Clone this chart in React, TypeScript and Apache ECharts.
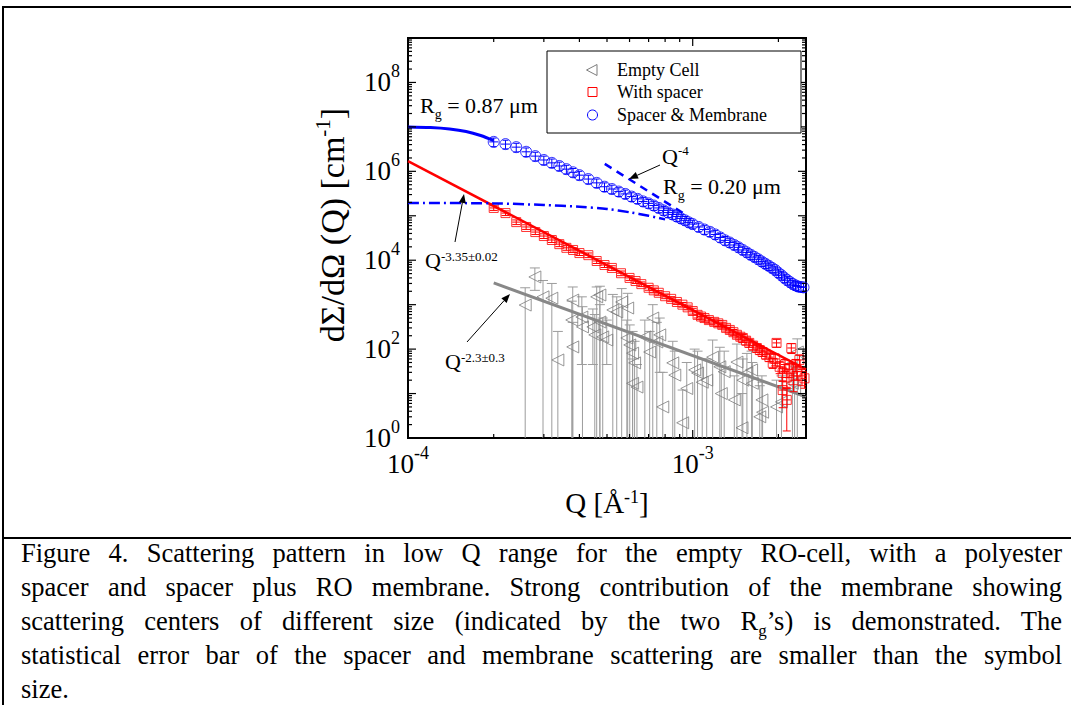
import React, { useEffect, useRef } from 'react';
import * as echarts from 'echarts';

const FONT = '"Liberation Serif", "Times New Roman", Times, serif';

// ---------- data ----------
// Empty cell (grey triangles): Q [1/Å], intensity, upper error bound, lower error bound (0 = reaches zero)
const emptyQ = [2.58e-4, 2.79e-4, 2.98e-4, 3.2e-4, 3.36e-4, 3.79e-4, 3.76e-4, 3.79e-4, 4.08e-4, 4.1e-4, 4.46e-4, 4.53e-4, 4.72e-4, 4.72e-4, 4.6e-4, 4.83e-4, 4.99e-4, 5.24e-4, 5.41e-4, 5.63e-4, 5.91e-4, 5.87e-4, 6.01e-4, 6.15e-4, 6.25e-4, 6.15e-4, 6.37e-4, 6.79e-4, 7.24e-4, 7.06e-4, 7.48e-4, 7.66e-4, 7.85e-4, 8.51e-4, 8.65e-4, 9.22e-4, 9.53e-4, 1.016e-3, 1.04e-3, 1.08e-3, 1.12e-3, 1.175e-3, 1.245e-3, 1.26e-3, 1.29e-3, 1.4e-3, 1.43e-3, 1.49e-3, 1.5e-3, 1.55e-3, 1.61e-3, 1.62e-3, 1.72e-3, 1.75e-3, 1.76e-3, 1.97e-3, 2.05e-3, 2.24e-3, 2.28e-3, 2.33e-3];
const emptyI = [980, 4200, 1500, 1400, 57, 1270, 452, 112, 527, 316, 316, 209, 407, 1650, 1500, 188, 160, 760, 684, 1150, 841, 178, 124, 81, 49, 17, 14, 188, 500, 86, 145, 209, 5, 49, 26, 2.2, 13, 34, 29, 18, 20, 66, 40, 10, 31, 7.2, 51, 1.7, 20, 29, 34, 17, 3.0, 7.2, 3.8, 5, 6.5, 17, 12, 86];
const emptyHi = [2400, 6700, 3500, 3000, 250, 2500, 1200, 400, 1500, 900, 800, 600, 1000, 2600, 2500, 500, 450, 1700, 1500, 2300, 1800, 450, 350, 250, 150, 60, 45, 450, 1000, 250, 400, 500, 30, 150, 90, 12, 50, 100, 90, 60, 60, 160, 110, 40, 90, 25, 130, 10, 60, 80, 90, 50, 15, 25, 18, 20, 25, 50, 40, 170];
const emptyLo = [0, 2100, 0, 0, 0, 0, 0, 0, 45, 0, 45, 0, 0, 0, 0, 0, 45, 0, 0, 0, 0, 0, 0, 0, 0, 0, 0, 0, 0, 0, 0, 30, 0, 0, 0, 0, 0, 0, 0, 0, 0, 0, 0, 0, 0, 0, 0, 0, 0, 0, 0, 0, 0, 0, 0, 0, 0, 0, 0, 0];

// With spacer (red squares)
const spacerQ = [2.0e-4, 2.2e-4, 2.4e-4, 2.6e-4, 2.8e-4, 3.0e-4, 3.2e-4, 3.4e-4, 3.6e-4, 3.8e-4, 4.0e-4, 4.3e-4, 4.6e-4, 4.9e-4, 5.2e-4, 5.6e-4, 6.0e-4, 6.3e-4, 6.6e-4, 7.0e-4, 7.3e-4, 7.6e-4, 8.0e-4, 8.4e-4, 8.8e-4, 9.2e-4, 9.6e-4, 1.0e-3, 1.04e-3, 1.07e-3, 1.1e-3, 1.14e-3, 1.19e-3, 1.23e-3, 1.27e-3, 1.31e-3, 1.35e-3, 1.39e-3, 1.43e-3, 1.47e-3, 1.5e-3, 1.54e-3, 1.58e-3, 1.63e-3, 1.68e-3, 1.72e-3, 1.76e-3, 1.81e-3, 1.86e-3, 1.91e-3, 1.95e-3, 1.97e-3, 2.02e-3, 2.07e-3, 2.07e-3, 2.11e-3, 2.14e-3, 2.14e-3, 2.18e-3, 2.22e-3, 2.26e-3, 2.3e-3, 2.32e-3, 2.37e-3, 2.42e-3, 2.47e-3];
const spacerI = [1.5e5, 1.15e5, 7.2e4, 5.6e4, 4.3e4, 3.5e4, 2.85e4, 2.3e4, 1.9e4, 1.7e4, 1.45e4, 1.3e4, 9.6e3, 7.8e3, 6.7e3, 5.1e3, 4.0e3, 3.4e3, 2.9e3, 2.4e3, 2.1e3, 1.85e3, 1.55e3, 1.35e3, 1.15e3, 1.0e3, 870, 720, 590, 540, 500, 450, 410, 380, 350, 300, 270, 240, 210, 190, 178, 155, 138, 120, 106, 95, 86, 75, 66, 49, 60, 138, 40, 29, 12, 45, 23, 7.2, 35, 106, 20, 45, 31, 57, 25, 22];
const spacerRelErr = [0.12, 0.12, 0.12, 0.12, 0.12, 0.12, 0.12, 0.12, 0.12, 0.12, 0.12, 0.12, 0.12, 0.12, 0.12, 0.12, 0.12, 0.12, 0.12, 0.12, 0.12, 0.12, 0.12, 0.12, 0.12, 0.12, 0.12, 0.15, 0.15, 0.15, 0.15, 0.15, 0.15, 0.15, 0.15, 0.15, 0.15, 0.15, 0.15, 0.15, 0.2, 0.2, 0.2, 0.2, 0.2, 0.2, 0.2, 0.2, 0.2, 0.25, 0.3, 0.2, 0.3, 0.35, 0.6, 0.3, 0.4, 0.8, 0.35, 0.25, 0.45, 0.3, 0.35, 0.3, 0.4, 0.4];

// Spacer & membrane (blue circles)
const membraneQ = [2.0e-4, 2.2e-4, 2.4e-4, 2.6e-4, 2.8e-4, 3.0e-4, 3.2e-4, 3.4e-4, 3.6e-4, 3.8e-4, 4.0e-4, 4.3e-4, 4.6e-4, 4.9e-4, 5.2e-4, 5.5e-4, 5.8e-4, 6.1e-4, 6.4e-4, 6.7e-4, 7.0e-4, 7.3e-4, 7.6e-4, 7.9e-4, 8.2e-4, 8.5e-4, 8.8e-4, 9.1e-4, 9.4e-4, 9.7e-4, 1.0e-3, 1.05e-3, 1.1e-3, 1.15e-3, 1.2e-3, 1.25e-3, 1.3e-3, 1.35e-3, 1.4e-3, 1.45e-3, 1.5e-3, 1.55e-3, 1.6e-3, 1.65e-3, 1.7e-3, 1.75e-3, 1.8e-3, 1.85e-3, 1.9e-3, 1.95e-3, 2.0e-3, 2.05e-3, 2.1e-3, 2.15e-3, 2.2e-3, 2.25e-3, 2.3e-3, 2.35e-3, 2.4e-3, 2.45e-3];
const membraneI = [4.6e6, 4.1e6, 3.5e6, 2.75e6, 2.2e6, 1.8e6, 1.55e6, 1.32e6, 1.12e6, 9.5e5, 8.2e5, 6.7e5, 5.5e5, 4.5e5, 4.0e5, 3.5e5, 3.1e5, 2.7e5, 2.4e5, 2.1e5, 1.9e5, 1.7e5, 1.5e5, 1.32e5, 1.18e5, 1.07e5, 9.6e4, 8.7e4, 7.9e4, 7.1e4, 6.5e4, 5.6e4, 4.9e4, 4.35e4, 3.8e4, 3.25e4, 2.8e4, 2.5e4, 2.2e4, 1.95e4, 1.7e4, 1.5e4, 1.32e4, 1.18e4, 1.05e4, 9.3e3, 8.3e3, 7.5e3, 6.7e3, 6.0e3, 5.2e3, 4.6e3, 4.0e3, 3.55e3, 3.2e3, 2.9e3, 2.7e3, 2.55e3, 2.5e3, 2.45e3];
const membraneRelErr = 0.22;

// Fits
const guinierLargeQ = [1.0e-4, 1.2e-4, 1.4e-4, 1.6e-4, 1.8e-4, 2.0e-4];
const guinierLargeI = [1.0e7, 9.7e6, 9.0e6, 7.9e6, 6.4e6, 4.9e6];
const guinierSmallQ = [1.0e-4, 2.0e-4, 3.0e-4, 4.0e-4, 5.0e-4, 6.0e-4, 7.0e-4, 8.0e-4];
const guinierSmallI = [1.95e5, 1.9e5, 1.75e5, 1.6e5, 1.42e5, 1.2e5, 1.0e5, 8.3e4];
const porodQ = [4.91e-4, 9.22e-4];
const porodI = [1.47e6, 1.17e5];
const spacerFitQ = [1.0e-4, 2.5e-3];
const spacerFitI = [1.7e6, 35];
const emptyFitQ = [2.0e-4, 2.5e-3];
const emptyFitI = [3.1e3, 8.4];

// Axes & ticks
const X_MIN = 1e-4;
const X_MAX = 2.5e-3;
const Y_MIN = 1;
const Y_MAX = 1e9;
const xLabelExps = [-4, -3];
const yLabelExps = [0, 2, 4, 6, 8];
const xMajorTicks = [1e-4, 1e-3];
const xMinorTicks = [2e-4, 3e-4, 4e-4, 5e-4, 6e-4, 7e-4, 8e-4, 9e-4, 2e-3];
const yMajorTicks = [1, 1e1, 1e2, 1e3, 1e4, 1e5, 1e6, 1e7, 1e8, 1e9];
const yMinorTicks: number[] = [];
yMajorTicks.slice(0, -1).forEach((d) => {
  [2, 3, 4, 5, 6, 7, 8, 9].forEach((m) => yMinorTicks.push(m * d));
});

const captionLines = [
  'Figure 4. Scattering pattern in low Q range for the empty RO-cell, with a polyester',
  'spacer and spacer plus RO membrane. Strong contribution of the membrane showing',
  'scattering centers of different size (indicated by the two R|g|’s) is demonstrated. The',
  'statistical error bar of the spacer and membrane scattering are smaller than the symbol',
  'size.',
];

// ---------- helpers ----------
const GREY = '#7d7d7d';
const GREY_ERR = '#9c9c9c';
const RED = '#ff0000';
const BLUE = '#0000ff';

function errRender(color: string, capW: number, centerW: number) {
  return (params: any, api: any) => {
    const q = api.value(0);
    const hi = api.value(1);
    const lo = api.value(2);
    const hasLo = api.value(3);
    const mid = api.value(4);
    const top = api.coord([q, hi]);
    const bot = api.coord([q, lo]);
    const x = top[0];
    const st = { stroke: color, lineWidth: 1 };
    const ch: any[] = [
      { type: 'line', shape: { x1: x, y1: top[1], x2: x, y2: bot[1] }, style: st },
      { type: 'line', shape: { x1: x - capW / 2, y1: top[1], x2: x + capW / 2, y2: top[1] }, style: st },
    ];
    if (hasLo) ch.push({ type: 'line', shape: { x1: x - capW / 2, y1: bot[1], x2: x + capW / 2, y2: bot[1] }, style: st });
    if (centerW) {
      const c = api.coord([q, mid]);
      ch.push({ type: 'line', shape: { x1: x - centerW / 2, y1: c[1], x2: x + centerW / 2, y2: c[1] }, style: st });
    }
    return { type: 'group', children: ch };
  };
}

function arrow(x1: number, y1: number, x2: number, y2: number) {
  const dx = x2 - x1;
  const dy = y2 - y1;
  const len = Math.hypot(dx, dy);
  const ux = dx / len;
  const uy = dy / len;
  const hl = 9;
  const hw = 3.5;
  const bx = x2 - ux * hl;
  const by = y2 - uy * hl;
  return [
    { type: 'line', shape: { x1, y1, x2: bx, y2: by }, style: { stroke: '#000', lineWidth: 1 }, z: 50 },
    {
      type: 'polygon',
      shape: { points: [[x2, y2], [bx - uy * hw, by + ux * hw], [bx + uy * hw, by - ux * hw]] },
      style: { fill: '#000' },
      z: 50,
    },
  ];
}

function richText(x: number, y: number, text: string, rich: any) {
  return {
    type: 'text',
    x,
    y,
    z: 50,
    style: {
      text,
      rich,
      fill: '#000',
      align: 'left',
      verticalAlign: 'middle',
      textAlign: 'left',
      textVerticalAlign: 'middle',
    },
  };
}

function rs(fontSize: number, lineHeight: number, verticalAlign?: string) {
  const s: any = { fontSize, lineHeight, fontFamily: FONT, fill: '#000', color: '#000' };
  if (verticalAlign) s.verticalAlign = verticalAlign;
  return s;
}

const labelRich = { b: rs(27, 40), s: rs(18, 18, 'top') };
const xNameRich = { b: rs(29, 30), s: rs(18, 18, 'top') };
const yNameRich = { b: rs(34, 40), s: rs(21, 21, 'top') };

function buildOption() {
  const emptyErrData = emptyQ.map((q, i) => [q, emptyHi[i], Math.max(emptyLo[i], Y_MIN), emptyLo[i] > 0 ? 1 : 0, emptyI[i]]);
  const spacerErrData = spacerQ.map((q, i) => [q, spacerI[i] * (1 + spacerRelErr[i]), Math.max(spacerI[i] * (1 - spacerRelErr[i]), Y_MIN), 1, spacerI[i]]);
  const membraneErrData = membraneQ.map((q, i) => [q, membraneI[i] * (1 + membraneRelErr), membraneI[i] * (1 - membraneRelErr), 1, membraneI[i]]);

  const xTickData = [...xMajorTicks.map((v) => [v, Y_MIN, 8]), ...xMinorTicks.map((v) => [v, Y_MIN, 4])];
  const yTickData = [...yMajorTicks.map((v) => [X_MIN, v, 8]), ...yMinorTicks.map((v) => [X_MIN, v, 4])];

  const tickStyle = { stroke: '#000', lineWidth: 1.2 };

  const graphic: any[] = [
    // legend box
    { type: 'rect', shape: { x: 547, y: 51, width: 254, height: 82 }, style: { fill: '#fff', stroke: '#000', lineWidth: 1 }, z: 40 },
    { type: 'polygon', shape: { points: [[586.5, 70], [597, 64.5], [597, 75.5]] }, style: { fill: 'none', stroke: GREY, lineWidth: 1 }, z: 41 },
    { type: 'rect', shape: { x: 588, y: 87.5, width: 9, height: 9 }, style: { fill: 'none', stroke: RED, lineWidth: 1 }, z: 41 },
    { type: 'circle', shape: { cx: 592.5, cy: 115, r: 5 }, style: { fill: 'none', stroke: BLUE, lineWidth: 1 }, z: 41 },
    ...['Empty Cell', 'With spacer', 'Spacer & Membrane'].map((t, i) => ({
      type: 'text',
      x: 617,
      y: [70, 92, 115][i],
      z: 41,
      style: { text: t, fontSize: 18, fontFamily: FONT, fill: '#000', align: 'left', verticalAlign: 'middle', textAlign: 'left', textVerticalAlign: 'middle' },
    })),
    // annotations
    richText(420, 105, '{b|R}{g|g}{b| = 0.87 μm}', { b: rs(22, 32), g: rs(14, 14, 'bottom') }),
    richText(663, 186, '{b|R}{g|g}{b| = 0.20 μm}', { b: rs(22, 32), g: rs(14, 14, 'bottom') }),
    richText(662, 156, '{b|Q}{s|-4}', { b: rs(22, 25), s: rs(13, 13, 'top') }),
    richText(425, 260, '{b|Q}{s|-3.35±0.02}', { b: rs(22, 20), s: rs(13, 13, 'top') }),
    richText(445, 361, '{b|Q}{s|-2.3±0.3}', { b: rs(22, 20), s: rs(13, 13, 'top') }),
    ...arrow(660, 165, 629, 179),
    ...arrow(455, 242, 464, 194),
    ...arrow(467, 342, 510, 294),
  ];

  return {
    animation: false,
    backgroundColor: '#fff',
    grid: { left: 408, top: 38, width: 398, height: 400, show: true, borderColor: '#000', borderWidth: 2, backgroundColor: 'transparent' },
    xAxis: {
      type: 'log',
      logBase: 10,
      min: X_MIN,
      max: X_MAX,
      axisLine: { show: false },
      axisTick: { show: false },
      minorTick: { show: false },
      splitLine: { show: false },
      axisLabel: {
        margin: 6,
        showMinLabel: true,
        formatter: (v: number) => {
          const e = Math.round(Math.log10(v));
          return xLabelExps.includes(e) && Math.abs(Math.log10(v) - e) < 1e-6 ? `{b|10}{s|${e}}` : '';
        },
        rich: labelRich,
      },
      name: '{b|Q [Å}{s|-1}{b|]}',
      nameLocation: 'middle',
      nameGap: 50,
      nameTextStyle: { rich: xNameRich },
    },
    yAxis: {
      type: 'log',
      logBase: 10,
      min: Y_MIN,
      max: Y_MAX,
      axisLine: { show: false },
      axisTick: { show: false },
      minorTick: { show: false },
      splitLine: { show: false },
      axisLabel: {
        margin: 8,
        showMinLabel: true,
        formatter: (v: number) => {
          const e = Math.round(Math.log10(v));
          return yLabelExps.includes(e) && Math.abs(Math.log10(v) - e) < 1e-6 ? `{b|10}{s|${e}}` : '';
        },
        rich: labelRich,
      },
      name: '{b|dΣ/dΩ (Q) [cm}{s|-1}{b|]}',
      nameLocation: 'middle',
      nameGap: 56,
      nameRotate: 90,
      nameTextStyle: { rich: yNameRich, padding: [0, 0, 0, 26] },
    },
    graphic,
    series: [
      {
        type: 'custom',
        name: 'Empty Cell errors',
        data: emptyErrData,
        renderItem: errRender(GREY_ERR, 10, 0),
        clip: true,
        silent: true,
        z: 1,
      },
      {
        type: 'scatter',
        name: 'Empty Cell',
        data: emptyQ.map((q, i) => [q, emptyI[i]]),
        symbol: 'path://M0,5L10,0L10,10Z',
        symbolSize: [12, 12],
        itemStyle: { color: 'transparent', borderColor: GREY, borderWidth: 1 },
        z: 2,
      },
      {
        type: 'line',
        name: 'Empty fit',
        data: emptyFitQ.map((q, i) => [q, emptyFitI[i]]),
        symbol: 'none',
        lineStyle: { color: '#888888', width: 3 },
        z: 3,
      },
      {
        type: 'custom',
        name: 'With spacer errors',
        data: spacerErrData,
        renderItem: errRender(RED, 8, 8),
        clip: true,
        silent: true,
        z: 4,
      },
      {
        type: 'scatter',
        name: 'With spacer',
        data: spacerQ.map((q, i) => [q, spacerI[i]]),
        symbol: 'rect',
        symbolSize: 9,
        itemStyle: { color: 'transparent', borderColor: RED, borderWidth: 1 },
        z: 5,
      },
      {
        type: 'line',
        name: 'Spacer fit',
        data: spacerFitQ.map((q, i) => [q, spacerFitI[i]]),
        symbol: 'none',
        lineStyle: { color: RED, width: 2.5 },
        z: 4,
      },
      {
        type: 'custom',
        name: 'Spacer & Membrane errors',
        data: membraneErrData,
        renderItem: errRender(BLUE, 6, 9),
        clip: true,
        silent: true,
        z: 6,
      },
      {
        type: 'scatter',
        name: 'Spacer & Membrane',
        data: membraneQ.map((q, i) => [q, membraneI[i]]),
        symbol: 'circle',
        symbolSize: 11,
        itemStyle: { color: 'transparent', borderColor: BLUE, borderWidth: 1 },
        z: 7,
      },
      {
        type: 'line',
        name: 'Guinier Rg=0.87',
        data: guinierLargeQ.map((q, i) => [q, guinierLargeI[i]]),
        symbol: 'none',
        smooth: 0.3,
        lineStyle: { color: BLUE, width: 3 },
        z: 8,
      },
      {
        type: 'line',
        name: 'Guinier Rg=0.20',
        data: guinierSmallQ.map((q, i) => [q, guinierSmallI[i]]),
        symbol: 'none',
        smooth: 0.3,
        lineStyle: { color: BLUE, width: 2.5, type: [11, 4, 2, 4] },
        z: 8,
      },
      {
        type: 'line',
        name: 'Porod Q^-4',
        data: porodQ.map((q, i) => [q, porodI[i]]),
        symbol: 'none',
        lineStyle: { color: BLUE, width: 2.5, type: [8, 6] },
        z: 8,
      },
      {
        type: 'custom',
        name: 'x ticks',
        data: xTickData,
        silent: true,
        z: 20,
        renderItem: (params: any, api: any) => {
          const v = api.value(0);
          const len = api.value(2);
          const b = api.coord([v, Y_MIN]);
          const t = api.coord([v, Y_MAX]);
          return {
            type: 'group',
            children: [
              { type: 'line', shape: { x1: b[0], y1: b[1], x2: b[0], y2: b[1] - len }, style: tickStyle },
              { type: 'line', shape: { x1: t[0], y1: t[1], x2: t[0], y2: t[1] + len }, style: tickStyle },
            ],
          };
        },
      },
      {
        type: 'custom',
        name: 'y ticks',
        data: yTickData,
        silent: true,
        z: 20,
        renderItem: (params: any, api: any) => {
          const v = api.value(1);
          const len = api.value(2);
          const l = api.coord([X_MIN, v]);
          const r = api.coord([X_MAX, v]);
          return {
            type: 'group',
            children: [
              { type: 'line', shape: { x1: l[0], y1: l[1], x2: l[0] + len, y2: l[1] }, style: tickStyle },
              { type: 'line', shape: { x1: r[0], y1: r[1], x2: r[0] - len, y2: r[1] }, style: tickStyle },
            ],
          };
        },
      },
    ],
  };
}

function CaptionLine({ text, index, last }: { text: string; index: number; last: boolean }) {
  const parts = text.split('|');
  return (
    <div
      style={{
        position: 'absolute',
        left: 21,
        top: 541 + index * 34,
        width: 1041,
        height: 24,
        lineHeight: '24px',
        fontSize: 26.5,
        fontFamily: FONT,
        color: '#000',
        textAlign: 'justify',
        textAlignLast: last ? 'left' : 'justify',
        whiteSpace: 'nowrap',
      }}
    >
      {parts.map((p, i) =>
        i % 2 === 1 ? (
          <span key={i} style={{ fontSize: 17, position: 'relative', top: 6 }}>
            {p}
          </span>
        ) : (
          <React.Fragment key={i}>{p}</React.Fragment>
        )
      )}
    </div>
  );
}

export default function App() {
  const ref = useRef<HTMLDivElement>(null);
  useEffect(() => {
    document.body.style.margin = '0';
    const chart = echarts.init(ref.current as HTMLDivElement, null, { renderer: 'svg' });
    chart.setOption(buildOption() as any);
    return () => chart.dispose();
  }, []);
  return (
    <div style={{ position: 'fixed', left: 0, top: 0, width: 1071, height: 705, background: '#fff', overflow: 'hidden' }}>
      <div ref={ref} style={{ position: 'absolute', left: 0, top: 0, width: 1071, height: 538 }} />
      <div style={{ position: 'absolute', left: 3, top: 6, width: 1068, height: 2, background: '#000' }} />
      <div style={{ position: 'absolute', left: 2, top: 6, width: 2, height: 699, background: '#000' }} />
      <div style={{ position: 'absolute', left: 3, top: 537, width: 1068, height: 2, background: '#000' }} />
      {captionLines.map((t, i) => (
        <CaptionLine key={i} text={t} index={i} last={i === captionLines.length - 1} />
      ))}
    </div>
  );
}
